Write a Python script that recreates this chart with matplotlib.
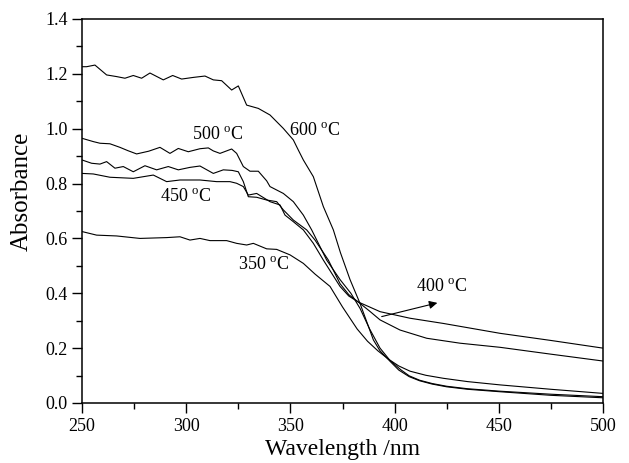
import matplotlib
matplotlib.use('Agg')
import matplotlib.pyplot as plt
from matplotlib.ticker import MultipleLocator

plt.rcParams['font.family'] = ['Liberation Serif', 'DejaVu Serif']
plt.rcParams['mathtext.fontset'] = 'custom'
plt.rcParams['mathtext.rm'] = 'Liberation Serif'

# spectra: wavelength (nm) and absorbance
wl_600 = [250, 252.2, 256.2, 261.8, 266.6, 270.6, 274.6, 278.6, 282.6, 289, 293.5, 297.8,
          303.4, 309, 313, 317, 321.8, 325, 329, 334.6, 340.2, 346.6, 351.4, 353.8, 356.2,
          361, 365.8, 370.6, 374, 378.6, 383.4, 389.8, 393, 397.8, 402, 407, 412, 418, 425,
          435, 450.6, 475, 500]
abs_600 = [1.226, 1.226, 1.232, 1.196, 1.190, 1.184, 1.194, 1.184, 1.203, 1.178, 1.194, 1.181,
           1.187, 1.192, 1.178, 1.175, 1.141, 1.156, 1.086, 1.074, 1.050, 1.001, 0.959, 0.922, 0.886,
           0.825, 0.716, 0.631, 0.548, 0.450, 0.363, 0.230, 0.190, 0.152, 0.120, 0.096, 0.081, 0.069,
           0.059, 0.050, 0.041, 0.028, 0.019]

wl_500 = [250, 255.4, 258.6, 263.4, 268.2, 272, 276.2, 282, 287.4, 292.2, 296.2, 301, 306.6,
          310.6, 313, 316.2, 321.8, 324.2, 327.4, 330.6, 334.6, 338.6, 340.2, 346.6, 351.4,
          356.2, 360.2, 364.2, 367.4, 373.8, 379, 383.4, 388, 393, 397.8, 403, 407, 412,
          418, 425, 435, 450.6, 475, 500]
abs_500 = [0.965, 0.953, 0.947, 0.945, 0.932, 0.920, 0.908, 0.918, 0.932, 0.910, 0.928, 0.916, 0.927,
           0.930, 0.919, 0.910, 0.926, 0.910, 0.862, 0.845, 0.845, 0.810, 0.789, 0.764, 0.734,
           0.685, 0.631, 0.570, 0.521, 0.450, 0.400, 0.345, 0.270, 0.200, 0.155, 0.121, 0.099, 0.083,
           0.071, 0.061, 0.052, 0.043, 0.032, 0.023]

wl_450 = [250, 255.4, 263.4, 274.6, 284.2, 290.6, 297, 306.6, 314.6, 321, 324.2, 327.4, 329.8,
          333.8, 340.2, 345, 347.4, 351.4, 356.2, 361, 365.8, 373.8, 378, 382.6, 388, 393,
          407.4, 423.4, 450.6, 475, 500]
abs_450 = [0.837, 0.835, 0.823, 0.819, 0.831, 0.807, 0.813, 0.813, 0.807, 0.807, 0.801, 0.789, 0.758,
           0.764, 0.734, 0.722, 0.685, 0.661, 0.631, 0.582, 0.521, 0.425, 0.390, 0.368, 0.350, 0.333,
           0.309, 0.290, 0.254, 0.228, 0.200]

wl_400 = [250, 254.6, 258.6, 261.8, 265.8, 269.8, 274.6, 280.2, 285.8, 291.4, 296.2, 301.8, 306.6,
          313, 317.8, 322, 325, 327.4, 329.8, 333.8, 338.6, 343.4, 346.6, 351.4, 357.8, 361.8,
          368.2, 373.8, 378, 382.6, 388, 393, 402.6, 415.4, 431.4, 450.6, 475, 500]
abs_400 = [0.886, 0.874, 0.871, 0.880, 0.856, 0.862, 0.843, 0.865, 0.850, 0.862, 0.850, 0.859, 0.864,
           0.837, 0.850, 0.848, 0.843, 0.807, 0.752, 0.750, 0.740, 0.734, 0.704, 0.667, 0.631, 0.594,
           0.521, 0.435, 0.395, 0.368, 0.335, 0.303, 0.266, 0.236, 0.218, 0.203, 0.178, 0.153]

wl_350 = [250, 257, 266.6, 277.8, 290.6, 297, 301.8, 306.6, 311.4, 319.4, 324.2, 329, 332.2,
          338.6, 343.4, 349.8, 356.2, 361.8, 369, 375, 382, 387, 392, 397, 402, 407.4, 415,
          423.4, 435, 450.6, 475, 500]
abs_350 = [0.625, 0.612, 0.609, 0.600, 0.603, 0.606, 0.594, 0.600, 0.592, 0.592, 0.582, 0.576, 0.582,
           0.562, 0.560, 0.540, 0.509, 0.470, 0.425, 0.350, 0.270, 0.225, 0.190, 0.160, 0.135, 0.116,
           0.101, 0.090, 0.078, 0.066, 0.050, 0.035]

fig = plt.figure(figsize=(6.29, 4.63), dpi=100)
ax = fig.add_axes([0.1304, 0.1296, 0.8283, 0.8294])

for wl, ab in [(wl_600, abs_600), (wl_500, abs_500), (wl_450, abs_450),
               (wl_400, abs_400), (wl_350, abs_350)]:
    ax.plot(wl, ab, color='black', lw=0.8)

# curve labels
ax.text(361.8, 0.99, '600 $^{\\mathrm{o}}$C', fontsize=13, ha='center', va='center')
ax.text(315.3, 0.977, '500 $^{\\mathrm{o}}$C', fontsize=13, ha='center', va='center')
ax.text(300, 0.751, '450 $^{\\mathrm{o}}$C', fontsize=13, ha='center', va='center')
ax.text(337.3, 0.50, '350 $^{\\mathrm{o}}$C', fontsize=13, ha='center', va='center')
ax.text(422.7, 0.42, '400 $^{\\mathrm{o}}$C', fontsize=13, ha='center', va='center')
ax.annotate('', xy=(420.5, 0.365), xytext=(393.8, 0.315),
            arrowprops=dict(arrowstyle='-|>', color='black', lw=0.8,
                            mutation_scale=12, shrinkA=0, shrinkB=0))

ax.set_xlim(250, 500)
ax.set_ylim(0, 1.4)
ax.xaxis.set_major_locator(MultipleLocator(50))
ax.xaxis.set_minor_locator(MultipleLocator(25))
ax.yaxis.set_major_locator(MultipleLocator(0.2))
ax.yaxis.set_minor_locator(MultipleLocator(0.1))
ax.yaxis.set_major_formatter(plt.FuncFormatter(lambda v, p: f'{v:.1f}'))
ax.tick_params(which='both', direction='out', top=False, right=False, width=1.0, labelsize=13)
ax.tick_params(which='major', length=7)
ax.tick_params(which='minor', length=4)
for s in ax.spines.values():
    s.set_linewidth(1.1)

ax.set_xlabel('Wavelength /nm', fontsize=17, labelpad=3)
ax.set_ylabel('Absorbance', fontsize=18)
ax.yaxis.set_label_coords(-0.094, 0.55)

plt.savefig('out.png', dpi=100)
